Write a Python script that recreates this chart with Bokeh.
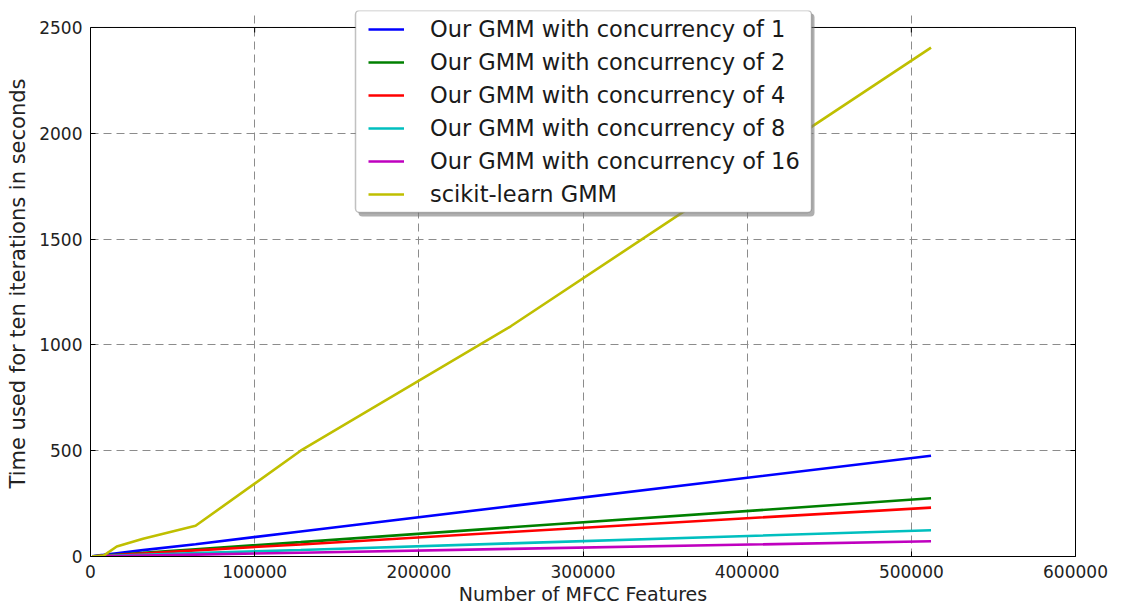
from bokeh.plotting import figure
from bokeh.models import (FixedTicker, BasicTickFormatter, LinearAxis, Legend,
                          LegendItem, Range1d, BoxAnnotation, Span)
from bokeh.embed import file_html
from bokeh.resources import INLINE

# Number of MFCC feature vectors used in each run
features = [1000, 2000, 4000, 8000, 16000, 32000, 64000, 128000, 256000, 512000]

# Time for ten EM iterations (seconds)
gmm_c1 = [1, 2, 4, 7.5, 15, 30, 58, 118, 238, 476]
gmm_c2 = [0.6, 1.1, 2.2, 4.3, 8.6, 17, 34, 68, 138, 275]
gmm_c4 = [0.5, 1, 1.8, 3.6, 7.2, 14.5, 29, 57, 116, 231]
gmm_c8 = [0.3, 0.5, 1, 2, 4, 8, 16, 31, 62, 124]
gmm_c16 = [0.2, 0.3, 0.6, 1.2, 2.3, 4.6, 9, 18, 36, 72]
sklearn = [0.5, 1, 2, 4, 47, 84, 145, 500, 1088, 2405]

series_labels = ["Our GMM with concurrency of 1", "Our GMM with concurrency of 2",
                 "Our GMM with concurrency of 4", "Our GMM with concurrency of 8",
                 "Our GMM with concurrency of 16", "scikit-learn GMM"]
series_colors = ["#0000ff", "#008000", "#ff0000", "#00bfbf", "#bf00bf", "#bfbf00"]

x_ticks = [0, 100000, 200000, 300000, 400000, 500000, 600000]
y_ticks = [0, 500, 1000, 1500, 2000, 2500]

FONT = "DejaVu Sans"
Y_MAX = 2500
# frame runs a little above the top spine so the legend box can overhang it
FRAME_H = 547
AXES_H = 530
Y_TOP = Y_MAX * FRAME_H / AXES_H
FRAME_BOTTOM = 557  # canvas row of the frame's lower edge

p = figure(width=1122, height=607, output_backend="svg", toolbar_location=None,
           x_range=Range1d(0, 600000), y_range=Range1d(0, Y_TOP),
           min_border_left=90, min_border_right=47, min_border_top=10,
           min_border_bottom=50)
p.background_fill_color = "white"
p.border_fill_color = "white"
p.outline_line_color = None

# Main axes
for ax in (p.xaxis[0], p.yaxis[0]):
    ax.axis_line_color = "black"
    ax.major_tick_in = 5
    ax.major_tick_out = 0
    ax.minor_tick_line_color = None
    ax.major_tick_line_color = "black"
    ax.major_label_text_font = FONT
    ax.major_label_text_font_size = "17px"
    ax.major_label_text_color = "#222222"
    ax.axis_label_text_font = FONT
    ax.axis_label_text_font_style = "normal"
    ax.axis_label_text_color = "#222222"
    ax.formatter = BasicTickFormatter(use_scientific=False)

p.xaxis[0].ticker = FixedTicker(ticks=x_ticks)
p.yaxis[0].ticker = FixedTicker(ticks=y_ticks)
p.yaxis[0].bounds = (0, Y_MAX)
p.xaxis[0].axis_label = "Number of MFCC Features"
p.yaxis[0].axis_label = "Time used for ten iterations in seconds"
p.xaxis[0].axis_label_text_font_size = "19px"
p.yaxis[0].axis_label_text_font_size = "21px"
p.xaxis[0].major_label_standoff = 8
p.yaxis[0].major_label_standoff = 8
p.xaxis[0].axis_label_standoff = 2
p.yaxis[0].axis_label_standoff = 6

# Right spine with inward ticks
right_ax = LinearAxis(ticker=FixedTicker(ticks=y_ticks), bounds=(0, Y_MAX),
                      major_tick_in=5, major_tick_out=0, minor_tick_line_color=None,
                      major_label_text_font_size="0px", major_label_standoff=0,
                      axis_line_color="black")
p.add_layout(right_ax, "right")

# Top spine with inward ticks
p.add_layout(Span(location=Y_MAX, dimension="width", line_color="black", line_width=1))
tick_len = 5 * Y_TOP / FRAME_H
p.segment(x0=x_ticks, x1=x_ticks, y0=[Y_MAX] * len(x_ticks),
          y1=[Y_MAX - tick_len] * len(x_ticks), line_color="black", line_width=1)

# Dashed grid
p.xgrid.ticker = FixedTicker(ticks=x_ticks)
p.ygrid.ticker = FixedTicker(ticks=y_ticks)
p.xgrid.bounds = (0, Y_MAX)
for g in (p.xgrid[0], p.ygrid[0]):
    g.grid_line_color = "#8c8c8c"
    g.grid_line_dash = "8 5"
    g.grid_line_width = 1

renderers = []
for ys, color in zip([gmm_c1, gmm_c2, gmm_c4, gmm_c8, gmm_c16, sklearn], series_colors):
    r = p.line(features, ys, line_color=color, line_width=2.6)
    renderers.append(r)


def screen_box(left, right, top, bottom, **style):
    """Box given in canvas pixels (top-left origin), drawn in frame screen units."""
    return BoxAnnotation(left=left - 90, right=right - 90,
                         top=FRAME_BOTTOM - top, bottom=FRAME_BOTTOM - bottom,
                         left_units="screen", right_units="screen",
                         top_units="screen", bottom_units="screen", **style)


# Legend frame: drop shadow, then a rounded white box
p.add_layout(screen_box(358, 814, 14, 217, fill_color="#7a7a7a", fill_alpha=0.6,
                        line_color=None, border_radius=4))
p.add_layout(screen_box(355, 811, 11, 213, fill_color="white", fill_alpha=1.0,
                        line_color="#333333", line_width=1.5, border_radius=4))

legend = Legend(items=[LegendItem(label=lab, renderers=[r])
                       for lab, r in zip(series_labels, renderers)],
                location=(278, 349), orientation="vertical",
                label_text_font=FONT, label_text_font_size="22.5px",
                label_text_color="#1a1a1a",
                glyph_width=36, glyph_height=24, label_height=24,
                label_standoff=26, spacing=7, padding=5,
                border_line_color=None, background_fill_alpha=0.0)
p.add_layout(legend, "center")

open("out.html", "w").write(file_html(p, INLINE))
